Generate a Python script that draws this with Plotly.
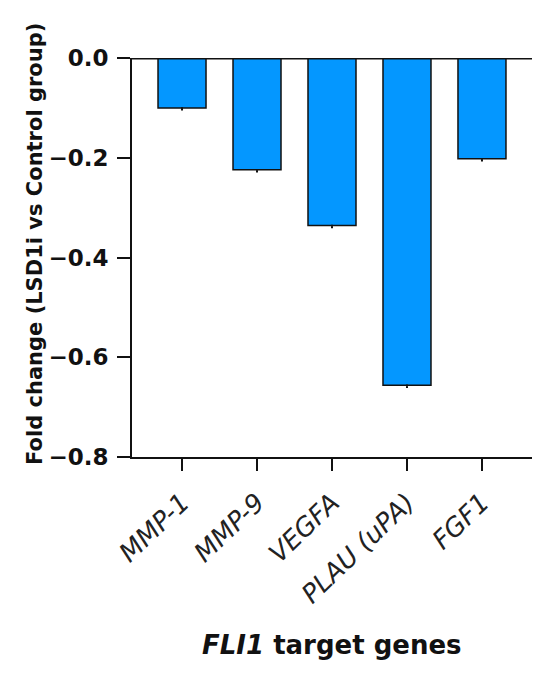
import plotly.graph_objects as go

# FLI1 target genes, fold change LSD1i vs control
genes = ["MMP-1", "MMP-9", "VEGFA", "PLAU (uPA)", "FGF1"]
fold_change = [-0.100, -0.224, -0.336, -0.656, -0.202]
err_down = [0.004, 0.004, 0.004, 0.004, 0.004]
err_up = [0, 0, 0, 0, 0]
y_ticks = [0.0, -0.2, -0.4, -0.6, -0.8]

bar_color = "#0497FF"

fig = go.Figure()
fig.add_trace(go.Bar(
    x=genes, y=fold_change,
    width=0.64,
    marker=dict(color=bar_color, line=dict(color="#111111", width=1.5)),
    error_y=dict(type="data", symmetric=False, array=err_up, arrayminus=err_down,
                 color="#111111", thickness=1.5, width=1),
    showlegend=False,
))

# thick baseline at zero
fig.add_shape(type="line", xref="paper", x0=0, x1=1.0, yref="y", y0=0, y1=0,
              line=dict(color="#111111", width=3), layer="above")

fig.update_layout(
    width=542, height=673,
    margin=dict(l=124, r=18, t=50, b=224),
    paper_bgcolor="white", plot_bgcolor="white",
    font=dict(family="DejaVu Sans", color="#111111"),
    xaxis=dict(
        type="category", range=[-0.667, 4.667],
        showline=True, linecolor="#111111", linewidth=2,
        ticks="outside", ticklen=12, tickwidth=2, tickcolor="#111111",
        tickangle=-44, ticklabelstandoff=6,
        tickfont=dict(family="DejaVu Sans", size=26, style="italic", color="#222222"),
        showgrid=False, zeroline=False,
    ),
    yaxis=dict(
        range=[-0.8, 0.0], tickvals=y_ticks, tickformat=".1f",
        showline=True, linecolor="#111111", linewidth=2,
        ticks="outside", ticklen=13, tickwidth=2, tickcolor="#111111",
        ticklabelstandoff=4,
        tickfont=dict(family="DejaVu Sans", size=23, weight="bold", color="#111111"),
        showgrid=False, zeroline=False,
    ),
    annotations=[
        dict(text="<b>Fold change (LSD1i vs Control group)</b>",
             xref="paper", yref="paper", x=-0.2425, y=0.534,
             xanchor="center", yanchor="middle",
             textangle=-90, showarrow=False,
             font=dict(family="DejaVu Sans", size=21, color="#111111")),
        dict(text="<b><i>FLI1</i> target genes</b>",
             xref="paper", yref="paper", x=0.5, y=-0.471,
             xanchor="center", yanchor="middle",
             showarrow=False,
             font=dict(family="DejaVu Sans", size=26, color="#111111")),
    ],
)

fig.write_html("out.html")
